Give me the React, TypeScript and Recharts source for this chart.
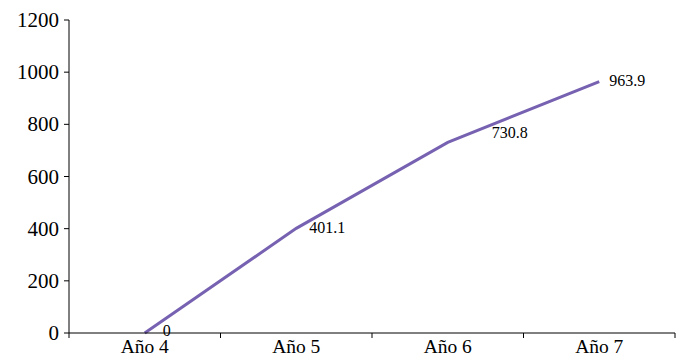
import { LineChart, Line, XAxis, YAxis, LabelList } from "recharts";

const categories = ["Año 4", "Año 5", "Año 6", "Año 7"];
const values = [0, 401.1, 730.8, 963.9];
const yTicks = [0, 200, 400, 600, 800, 1000, 1200];
// label nudges (dx, dy) per point, as placed in the original
const labelNudge = [
  [18, -2],
  [13, 0],
  [44, -9],
  [10, -1],
];

const data = categories.map((c, i) => ({ name: c, value: values[i] }));

const FONT = "Liberation Serif, Times New Roman, serif";

function CategoryTick(props: any) {
  const { x, y, payload, index, visibleTicksCount } = props;
  const half = payload.offset ?? 0;
  return (
    <g>
      <line x1={x - half} x2={x - half} y1={y - 8} y2={y - 3} stroke="#000" />
      {index === visibleTicksCount - 1 && (
        <line x1={x + half} x2={x + half} y1={y - 8} y2={y - 3} stroke="#000" />
      )}
      <text x={x} y={y + 12} textAnchor="middle" fontSize={19.5} style={{ fontFamily: FONT }} fill="#000">
        {payload.value}
      </text>
    </g>
  );
}

function YTick(props: any) {
  const { x, y, payload } = props;
  return (
    <text x={x - 3} y={y + 7} textAnchor="end" fontSize={21} style={{ fontFamily: FONT }} fill="#000">
      {payload.value}
    </text>
  );
}

function ValueLabel(props: any) {
  const { x, y, value, index } = props;
  const [dx, dy] = labelNudge[index] ?? [10, 0];
  return (
    <text x={x + dx} y={y + dy + 5} fontSize={16} style={{ fontFamily: FONT }} fill="#000">
      {value}
    </text>
  );
}

export default function App() {
  return (
    <div
      style={{
        position: "absolute",
        left: 0,
        top: 0,
        width: 685,
        height: 357,
        background: "#fff",
        fontFamily: FONT,
      }}
    >
      <LineChart width={685} height={357} data={data} margin={{ top: 20, right: 10, left: 9, bottom: 0 }}>
        <XAxis
          dataKey="name"
          scale="band"
          height={24}
          axisLine={{ stroke: "#000" }}
          tickLine={false}
          tick={<CategoryTick />}
          interval={0}
        />
        <YAxis
          width={60}
          domain={[0, 1200]}
          ticks={yTicks}
          axisLine={{ stroke: "#000" }}
          tickLine={{ stroke: "#000" }}
          tickSize={5}
          tick={<YTick />}
        />
        <Line
          type="linear"
          dataKey="value"
          stroke="#7762b2"
          strokeWidth={3}
          dot={false}
          isAnimationActive={false}
        >
          <LabelList dataKey="value" content={<ValueLabel />} />
        </Line>
      </LineChart>
    </div>
  );
}
